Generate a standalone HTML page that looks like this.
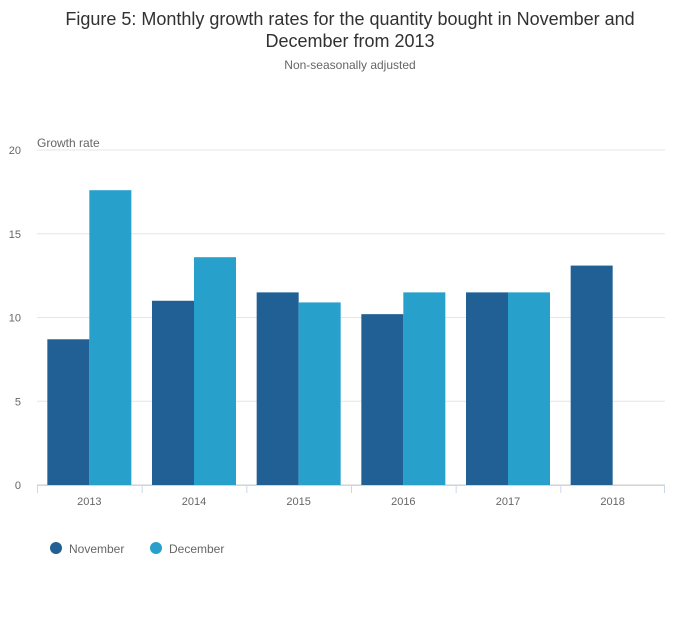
<!DOCTYPE html>
<html><head><meta charset="utf-8">
<style>
body{margin:0;background:#fff;font-family:"Liberation Sans",sans-serif;}
#wrap{position:relative;width:700px;height:635px;}
.title{position:absolute;left:0;width:700px;text-align:center;color:#323132;font-size:18px;line-height:22px;top:8px;}
.sub{position:absolute;left:0;width:700px;text-align:center;color:#666;font-size:12px;top:58px;}
</style></head><body>
<div id="wrap">
<div class="title">Figure 5: Monthly growth rates for the quantity bought in November and<br>December from 2013</div>
<div class="sub">Non-seasonally adjusted</div>
<svg id="chart" width="700" height="635" style="position:absolute;left:0;top:0"></svg>
</div>
<script>
const categories=["2013","2014","2015","2016","2017","2018"];
const november=[8.7,11.0,11.5,10.2,11.5,13.1];
const december=[17.6,13.6,10.9,11.5,11.5,null];
const yTicks=[0,5,10,15,20];
const seriesNames=["November","December"];
const colors=["#206095","#27a0cc"];

const svg=document.getElementById('chart');
const NS="http://www.w3.org/2000/svg";
const x0=37,x1=665,yTop=150,yBot=485,yMax=20;
const band=(x1-x0)/categories.length;
const y=v=>yBot-(v/yMax)*(yBot-yTop);
function el(t,a,txt){const e=document.createElementNS(NS,t);for(const k in a)e.setAttribute(k,a[k]);if(txt!=null)e.textContent=txt;svg.appendChild(e);return e;}

yTicks.forEach(t=>{
  const g=el('line',{x1:x0,x2:x1,y1:y(t),y2:y(t),stroke:t===0?'#ccc':'#e6e6e6','stroke-width':1});
  
  
  const l=el('text',{x:21,y:y(t)+4,'text-anchor':'end','font-size':11,fill:'#666'},String(t));
  
  
});
const yt=el('text',{x:37,y:147,'font-size':12,fill:'#666'},'Growth rate');



const ax=el('line',{x1:x0,x2:x1,y1:yBot+0.5,y2:yBot+0.5,stroke:'#ccd6eb'});



const bw=42,pad=(band-2*bw)/2;
categories.forEach((c,i)=>{
  const bx=x0+i*band;
  const tk=el('line',{x1:bx+0.5,x2:bx+0.5,y1:yBot,y2:yBot+8,stroke:'#ccd6eb'});
  
  
  [november,december].forEach((s,j)=>{
    const v=s[i]; if(v==null)return;
    const r=el('rect',{x:bx+pad+j*bw,y:y(v),width:bw,height:yBot-y(v),fill:colors[j]});
    
    
  });
  const t=el('text',{x:bx+band/2,y:505,'text-anchor':'middle','font-size':11,fill:'#666'},c);
  
  
});
const tkEnd=el('line',{x1:x1-0.5,x2:x1-0.5,y1:yBot,y2:yBot+8,stroke:'#ccd6eb'});



const lx=[56,156];
seriesNames.forEach((n,j)=>{
  const c=el('circle',{cx:lx[j],cy:548,r:6,fill:colors[j]});
  
  
  const t=el('text',{x:lx[j]+13,y:553,'font-size':12,fill:'#666'},n);
  
  
});
</script>
</body></html>
